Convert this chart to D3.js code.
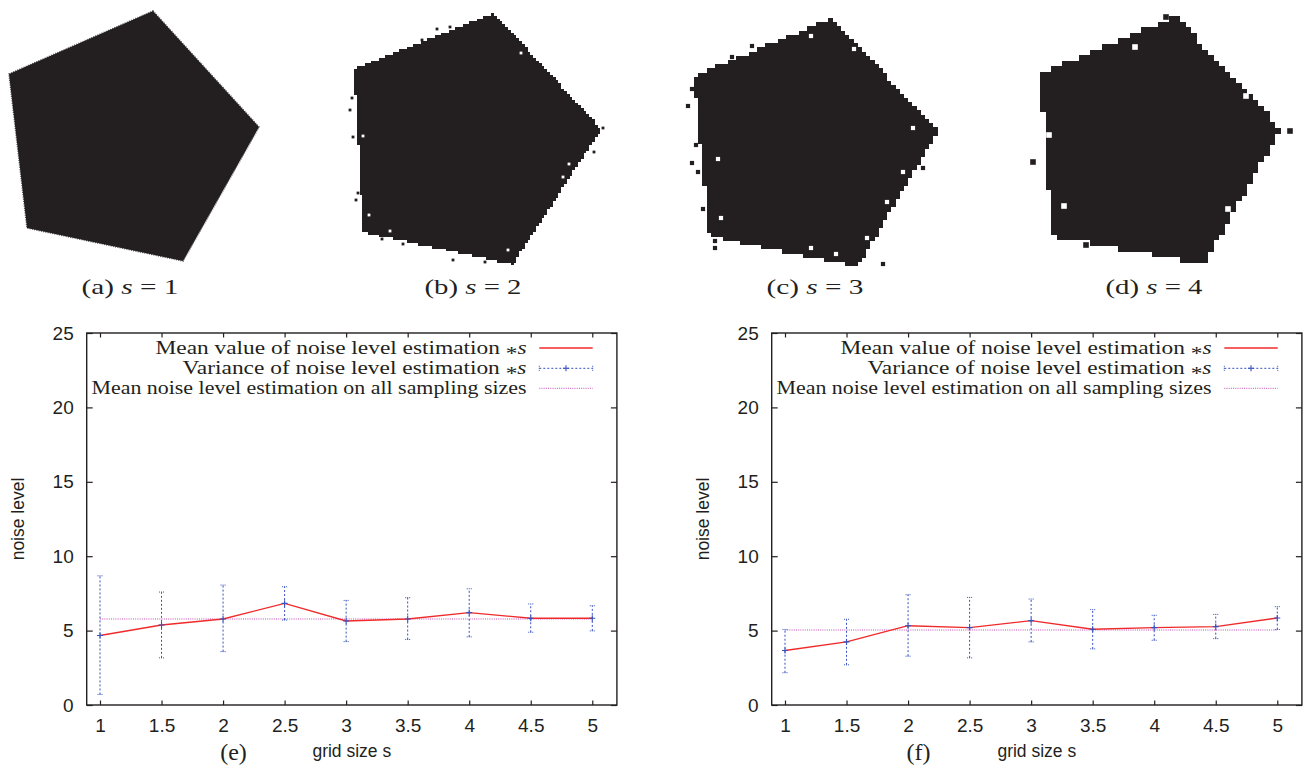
<!DOCTYPE html>
<html><head><meta charset="utf-8">
<script src="https://cdn.jsdelivr.net/npm/d3@7"></script>
<style>body{margin:0;background:#fff} svg{display:block}</style>
</head><body>
<svg id="fig" width="1308" height="769"></svg>
<script>
// ---------- data ----------
const gridSizes = [1, 1.5, 2, 2.5, 3, 3.5, 4, 4.5, 5];
const meanE = [4.67, 5.38, 5.78, 6.83, 5.65, 5.78, 6.21, 5.83, 5.83];
const highE = [8.68, 7.59, 8.06, 7.95, 7.03, 7.21, 7.81, 6.79, 6.67];
const lowE  = [0.71, 3.17, 3.59, 5.71, 4.26, 4.40, 4.58, 4.89, 4.98];
const overallE = 5.78;
const meanF = [3.66, 4.24, 5.33, 5.20, 5.67, 5.09, 5.20, 5.27, 5.85];
const highF = [5.07, 5.76, 7.41, 7.23, 7.12, 6.41, 6.03, 6.09, 6.61];
const lowF  = [2.17, 2.70, 3.28, 3.17, 4.24, 3.77, 4.35, 4.46, 5.07];
const overallF = 5.04;
const yTicks = [0, 5, 10, 15, 20, 25];
const xTicks = [1, 1.5, 2, 2.5, 3, 3.5, 4, 4.5, 5];
const legendLabels = ["Mean value of noise level estimation ", "Variance of noise level estimation ", "Mean noise level estimation on all sampling sizes"];
const legendItalic = ["s", "s", ""];
const chartLabels = ["(e)", "(f)"];
const xTitle = "grid size s";
const yTitle = "noise level";
const panelLetters = ["(a)", "(b)", "(c)", "(d)"];
const panelS = [1, 2, 3, 4];
// pentagon outlines (image pixel units) of the four sampled shapes
const pentA = [[153,11],[259,127],[183,261],[27,228],[9,74]];
const pentB = [[494,13],[601,129],[513,264],[363,232],[354,69]];
const pentC = [[832,18],[938,131],[858,266],[709,236],[694,76]];
const pentD = [[1176,16],[1281,129],[1204,264],[1052,236],[1040,74]];
// isolated noisy samples: outside specks and inside holes
const specksB = [[358,193],[352,98],[353,137],[382,239],[403,244],[453,260],[485,262],[603,128],[594,152],[422,40],[437,29],[450,27],[350,110],[356,200]];
const holesB  = [[521,53],[363,136],[569,164],[563,177],[390,231],[508,250],[369,215]];
const specksC = [[692,89],[688,106],[696,145],[692,163],[698,172],[703,209],[715,241],[715,248],[883,264],[923,168],[752,46],[732,57]];
const holesC  = [[811,36],[854,49],[718,159],[913,128],[903,172],[887,202],[721,218],[867,238],[811,248],[836,254]];
const specksD = [[1033,162],[1290,131],[1086,245],[1166,17]];
const holesD  = [[1135,47],[1064,206],[1228,209],[1049,135],[1246,96]];

// ---------- drawing ----------
const svg = d3.select("#fig");
const INK = "#231f20";
const RED = "#f02a2a", BLUE = "#3552c0", MAG = "#c24ab6";
const SANS = "'Liberation Sans', Arial, sans-serif";
const SERIF = "'Liberation Serif', 'Times New Roman', serif";

// top row: rasterised pentagons
const pix = d3.scaleLinear().domain([0, 1]).range([0, 1]);
const polys = [pentA, pentB, pentC, pentD];
const specks = [[], specksB, specksC, specksD];
const holes = [[], holesB, holesC, holesD];
const labelCx = [130, 473, 815, 1154];
polys.forEach((poly, i) => {
  const g = svg.append("g");
  const s = panelS[i];
  const P = poly.map(p => [pix(p[0]), pix(p[1])]);
  const cell = 1.4 * s;
  if (s === 1) {
    g.append("path").attr("d", "M" + P.join("L") + "Z").attr("fill", INK)
      .attr("stroke", INK).attr("stroke-width", 1.6).attr("stroke-dasharray", "1,1.3").attr("stroke-opacity", 0.75);
  } else {
    const xs = P.map(p => p[0]), ys = P.map(p => p[1]);
    const x0 = Math.floor(d3.min(xs)) - cell, x1 = Math.ceil(d3.max(xs)) + cell;
    const y0 = Math.floor(d3.min(ys)) - cell, y1 = Math.ceil(d3.max(ys)) + cell;
    const runs = [];
    for (let y = y0; y < y1; y += cell) {
      let start = null;
      for (let x = x0; x < x1; x += cell) {
        const inside = d3.polygonContains(P, [x + cell / 2, y + cell / 2]);
        if (inside && start === null) start = x;
        if (!inside && start !== null) { runs.push([start, y, x - start]); start = null; }
      }
    }
    g.selectAll("rect.run").data(runs).join("rect").attr("class", "run")
      .attr("x", d => d[0]).attr("y", d => d[1])
      .attr("width", d => d[2]).attr("height", cell + 0.4)
      .attr("fill", INK).attr("shape-rendering", "crispEdges");
    g.selectAll("rect.sp").data(specks[i]).join("rect").attr("class", "sp")
      .attr("x", d => pix(d[0]) - cell / 2).attr("y", d => pix(d[1]) - cell / 2)
      .attr("width", cell).attr("height", cell).attr("fill", INK);
    g.selectAll("rect.ho").data(holes[i]).join("rect").attr("class", "ho")
      .attr("x", d => pix(d[0]) - cell / 2).attr("y", d => pix(d[1]) - cell / 2)
      .attr("width", cell).attr("height", cell).attr("fill", "#fff");
  }
  const t = svg.append("text").attr("x", labelCx[i]).attr("y", 294)
    .attr("text-anchor", "middle").attr("font-family", SERIF).attr("font-size", 22)
    .attr("fill", INK).attr("textLength", 97).attr("lengthAdjust", "spacingAndGlyphs");
  t.append("tspan").text(panelLetters[i] + "  ");
  t.append("tspan").attr("font-style", "italic").text("s");
  t.append("tspan").text(" = " + panelS[i]);
});

// bottom row: two line charts
const charts = [
  {ox: 0, mean: meanE, hi: highE, lo: lowE, overall: overallE, label: chartLabels[0]},
  {ox: 685, mean: meanF, hi: highF, lo: lowF, overall: overallF, label: chartLabels[1]}
];
const legendW = [371, 344, 435];

charts.forEach(c => {
  const L = 86.7 + c.ox, R = 616.9 + c.ox, T = 333, B = 705;
  const x = d3.scaleLinear().domain([0.892, 5.2]).range([L, R]);
  const y = d3.scaleLinear().domain([0, 25]).range([B, T]);
  const g = svg.append("g");

  // axes
  const ax = (gen, tr, lab) => {
    const a = g.append("g").attr("transform", tr).call(gen);
    a.select(".domain").remove();
    a.selectAll("line").attr("stroke", INK).attr("stroke-width", 1.2);
    a.selectAll("text").attr("font-family", SANS).attr("font-size", 19).attr("fill", INK);
    if (!lab) a.selectAll("text").remove();
    return a;
  };
  ax(d3.axisLeft(y).tickValues(yTicks).tickSize(-6).tickPadding(13), `translate(${L},0)`, true);
  ax(d3.axisRight(y).tickValues(yTicks).tickSize(-6), `translate(${R},0)`, false);
  ax(d3.axisBottom(x).tickValues(xTicks).tickSize(-4.5).tickPadding(14).tickFormat(d3.format("")), `translate(0,${B})`, true);
  ax(d3.axisTop(x).tickValues(xTicks).tickSize(-4.5), `translate(0,${T})`, false);

  g.append("rect").attr("x", L).attr("y", T).attr("width", R - L).attr("height", B - T)
    .attr("fill", "none").attr("stroke", INK).attr("stroke-width", 1.4);

  // overall mean
  g.append("line").attr("x1", x(gridSizes[0])).attr("x2", x(gridSizes[gridSizes.length - 1]))
    .attr("y1", y(c.overall)).attr("y2", y(c.overall))
    .attr("stroke", MAG).attr("stroke-width", 1).attr("stroke-dasharray", "1,1.2");

  // error bars
  const eb = g.append("g");
  gridSizes.forEach((s, i) => {
    const xx = x(s);
    eb.append("line").attr("x1", xx).attr("x2", xx).attr("y1", y(c.lo[i])).attr("y2", y(c.hi[i]))
      .attr("stroke", BLUE).attr("stroke-width", 1).attr("stroke-dasharray", "2,2");
    [c.lo[i], c.hi[i]].forEach(v => {
      eb.append("line").attr("x1", xx - 2.5).attr("x2", xx + 2.5).attr("y1", y(v)).attr("y2", y(v))
        .attr("stroke", BLUE).attr("stroke-width", 1).attr("stroke-dasharray", "1,1");
    });
  });

  // mean line
  g.append("path").datum(gridSizes.map((s, i) => [s, c.mean[i]]))
    .attr("d", d3.line().x(d => x(d[0])).y(d => y(d[1])))
    .attr("fill", "none").attr("stroke", RED).attr("stroke-width", 1.4);

  // plus markers
  gridSizes.forEach((s, i) => {
    g.append("path").attr("d", `M${x(s) - 3},${y(c.mean[i])}h6M${x(s)},${y(c.mean[i]) - 3}v6`)
      .attr("stroke", BLUE).attr("stroke-width", 1.1);
  });

  // legend
  const lx0 = 539.3 + c.ox, lx1 = 592.7 + c.ox;
  const rows = [348, 368.3, 388.3];
  legendLabels.forEach((lab, i) => {
    const t = g.append("text").attr("x", 526.5 + c.ox).attr("y", rows[i] + 5.7)
      .attr("text-anchor", "end").attr("font-family", SERIF).attr("font-size", 18.5).attr("fill", INK)
      .attr("textLength", legendW[i]).attr("lengthAdjust", "spacingAndGlyphs");
    t.append("tspan").text(lab);
    if (legendItalic[i]) {
      t.append("tspan").attr("dy", 6).text("*");
      t.append("tspan").attr("dy", -6).attr("font-style", "italic").text(legendItalic[i]);
    }
  });
  g.append("line").attr("x1", lx0).attr("x2", lx1).attr("y1", rows[0]).attr("y2", rows[0])
    .attr("stroke", RED).attr("stroke-width", 1.4);
  g.append("line").attr("x1", lx0).attr("x2", lx1).attr("y1", rows[1]).attr("y2", rows[1])
    .attr("stroke", BLUE).attr("stroke-width", 1).attr("stroke-dasharray", "2,2");
  [lx0, lx1].forEach(xx => g.append("line").attr("x1", xx).attr("x2", xx)
    .attr("y1", rows[1] - 2.5).attr("y2", rows[1] + 2.5).attr("stroke", BLUE).attr("stroke-width", 1)
    .attr("stroke-dasharray", "1,1"));
  const mx = (lx0 + lx1) / 2;
  g.append("path").attr("d", `M${mx - 3},${rows[1]}h6M${mx},${rows[1] - 3}v6`)
    .attr("stroke", BLUE).attr("stroke-width", 1.1);
  g.append("line").attr("x1", lx0).attr("x2", lx1).attr("y1", rows[2]).attr("y2", rows[2])
    .attr("stroke", MAG).attr("stroke-width", 1).attr("stroke-dasharray", "1,1.2");

  // titles
  g.append("text").attr("x", (L + R) / 2).attr("y", 757).attr("text-anchor", "middle")
    .attr("font-family", SANS).attr("font-size", 17.5).attr("fill", INK).text(xTitle);
  g.append("text").attr("transform", `translate(${24 + c.ox},${(T + B) / 2}) rotate(-90)`)
    .attr("text-anchor", "middle").attr("font-family", SANS).attr("font-size", 17.5).attr("fill", INK).text(yTitle);
  g.append("text").attr("x", 233.5 + c.ox).attr("y", 760).attr("text-anchor", "middle")
    .attr("font-family", SERIF).attr("font-size", 24).attr("fill", INK).text(c.label);
});
</script>
</body></html>
